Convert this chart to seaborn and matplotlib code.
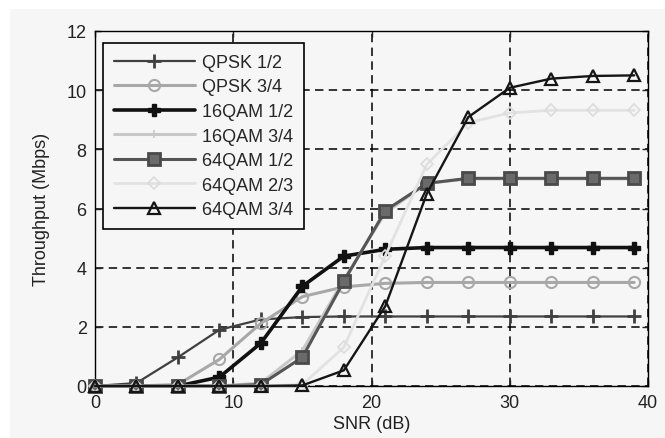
import matplotlib
matplotlib.use("Agg")
import matplotlib.pyplot as plt
import seaborn as sns
import pandas as pd
from matplotlib.patches import Rectangle

snr = [0, 3, 6, 9, 12, 15, 18, 21, 24, 27, 30, 33, 36, 39]
qpsk_12 = [0, 0.1, 0.97, 1.9, 2.25, 2.33, 2.35, 2.35, 2.35, 2.35, 2.35, 2.35, 2.35, 2.35]
qpsk_34 = [0, 0, 0.05, 0.9, 2.12, 3.02, 3.35, 3.47, 3.5, 3.5, 3.5, 3.5, 3.5, 3.5]
qam16_12 = [0, 0, 0, 0.3, 1.45, 3.37, 4.39, 4.62, 4.68, 4.68, 4.68, 4.68, 4.68, 4.68]
qam16_34 = [0, 0, 0, 0, 0.1, 1.2, 3.6, 5.85, 6.85, 7.0, 7.0, 7.0, 7.0, 7.0]
qam64_12 = [0, 0, 0, 0, 0.05, 0.97, 3.54, 5.93, 6.85, 7.02, 7.02, 7.02, 7.02, 7.02]
qam64_23 = [0, 0, 0, 0, 0, 0.05, 1.31, 4.4, 7.49, 8.9, 9.23, 9.32, 9.32, 9.32]
qam64_34 = [0, 0, 0, 0, 0, 0.02, 0.53, 2.7, 6.5, 9.09, 10.08, 10.39, 10.48, 10.5]

labels = ["QPSK 1/2", "QPSK 3/4", "16QAM 1/2", "16QAM 3/4",
          "64QAM 1/2", "64QAM 2/3", "64QAM 3/4"]
series = [qpsk_12, qpsk_34, qam16_12, qam16_34, qam64_12, qam64_23, qam64_34]

styles = [
    dict(color="#404040", lw=1.6, marker="+", ms=10, mew=2.0, mfc="none", mec="#404040"),
    dict(color="#a8a8a8", lw=2.2, marker="o", ms=8, mew=1.5, mfc="none", mec="#a8a8a8"),
    dict(color="#111111", lw=2.6, marker="P", ms=9, mew=1.0, mfc="#111111", mec="#111111"),
    dict(color="#c8c8c8", lw=2.2, marker="+", ms=6, mew=1.2, mfc="none", mec="#c8c8c8"),
    dict(color="#555555", lw=2.2, marker="s", ms=9, mew=2.0, mfc="#6a6a6a", mec="#4a4a4a"),
    dict(color="#e2e2e2", lw=2.0, marker="D", ms=6, mew=1.2, mfc="none", mec="#dcdcdc"),
    dict(color="#151515", lw=1.7, marker="^", ms=9, mew=1.6, mfc="none", mec="#151515"),
]

sns.set_theme(style="white")
plt.rcParams['font.family'] = ['Liberation Sans', 'DejaVu Sans']

FS = 13
fig = plt.figure(figsize=(6.65, 4.39), dpi=100)
fig.patch.set_facecolor("white")
fig.add_artist(Rectangle((10/665, 0), 1, 1 - 10/439, transform=fig.transFigure,
                         facecolor="#f6f6f6", edgecolor="none", zorder=0))
ax = fig.add_axes([95/665, 1 - 387/439, (648-95)/665, (387-32)/439])
ax.set_facecolor("#f6f6f6")

for lab, vals, st in zip(labels, series, styles):
    df = pd.DataFrame({"SNR": snr, "T": vals})
    sns.lineplot(data=df, x="SNR", y="T", ax=ax, label=lab,
                 color=st["color"], linewidth=st["lw"], marker=st["marker"],
                 markersize=st["ms"], markeredgewidth=st["mew"],
                 markerfacecolor=st["mfc"], markeredgecolor=st["mec"],
                 clip_on=False, zorder=3)

ax.set_xlim(0, 40)
ax.set_ylim(0, 12)
ax.set_xticks([0, 10, 20, 30, 40])
ax.set_yticks([0, 2, 4, 6, 8, 10, 12])
ax.grid(True, color="black", linestyle=(0, (5.5, 3.5)), linewidth=1.1)
ax.set_axisbelow(True)
for s in ax.spines.values():
    s.set_color("black")
    s.set_linewidth(1.0)
ax.tick_params(direction="in", length=4, width=1, colors="#222222", labelsize=FS,
               top=True, right=True, bottom=True, left=True, pad=6)
ax.set_xlabel("SNR (dB)", fontsize=FS, color="#222222", labelpad=3)
ax.set_ylabel("Throughput (Mbps)", fontsize=FS, color="#222222", labelpad=12)

leg = ax.legend(loc="upper left", bbox_to_anchor=(8/553, 1 - 12/355), frameon=True,
                fancybox=False, edgecolor="black", facecolor="#f6f6f6", framealpha=1,
                fontsize=FS, handlelength=4.5, labelspacing=0.42, borderpad=0.6,
                handletextpad=0.4, borderaxespad=0)
leg.get_frame().set_linewidth(1.2)
leg.set_zorder(5)

fig.savefig("out.png", dpi=100, facecolor=fig.get_facecolor())
